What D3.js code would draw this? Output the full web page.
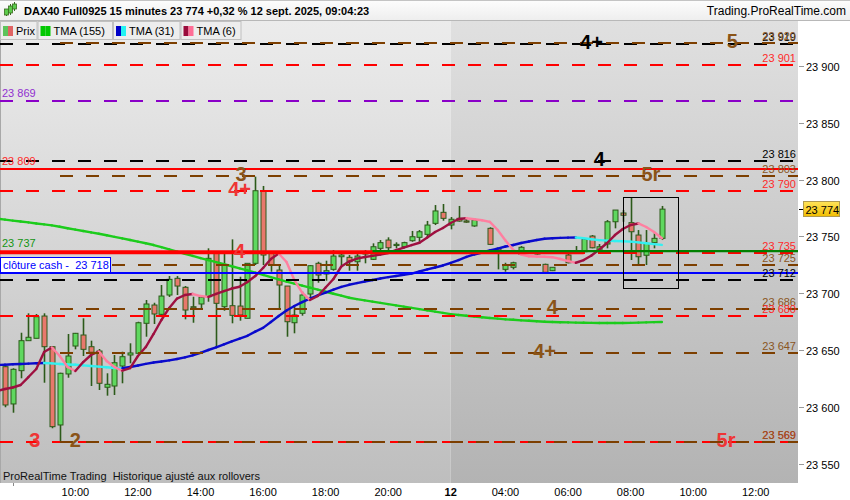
<!DOCTYPE html>
<html><head><meta charset="utf-8">
<script src="https://cdn.jsdelivr.net/npm/d3@7"></script>
<style>
html,body{margin:0;padding:0;background:#fff;}
svg{display:block;font-family:"Liberation Sans",Arial,sans-serif;}
</style></head><body>
<svg id="c" width="850" height="500"></svg>
<script>
// ---------------- DATA ----------------
// 15-minute candles, index 0 = 07:45 on 11 Sept (null = no candle)
const candleOpen  = [23635.3,23602.5,23631.8,23658.2,23660.3,23679.9,23652.9,23584.0,23628.9,23653.5,23663.2,23652.9,23649.1,23617.2,23618.3,23635.9,23645.6,23647.1,23673.5,23689.6,23681.4,23698.4,23713.1,23705.2,23688.1,23690.5,23696.9,23735.6,23688.1,23689.0,23688.7,23677.9,23726.3,23790.2,23736.5,23720.4,23706.3,23674.0,23682.3,23699.3,23726.3,23716.9,23721.0,23732.1,23731.6,23727.7,23734.5,23729.8,23739.5,23746.8,23742.2,23740.9,23746.2,23749.2,23751.8,23761.5,23771.2,23760.0,23765.9,23763.6,23759.2,null,23757.1,23739.5,23721.0,23722.8,23734.2,null,23734.5,23725.4,23719.8,null,23733.6,23737.0,23736.5,23750.3,23737.4,23743.3,23762.9,23770.6,23762.1,23751.2,23733.4,23744.5,23748.3];
const candleHigh  = [23636.8,23633.9,23665.2,23682.3,23681.7,23682.3,23653.5,23630.0,23664.1,23665.0,23677.9,23658.2,23650.9,23629.5,23645.6,23648.5,23655.9,23674.9,23694.0,23691.6,23707.2,23715.1,23715.1,23706.3,23696.9,23696.9,23739.5,23736.0,23734.5,23747.4,23714.5,23726.3,23802.6,23794.4,23737.1,23724.8,23706.3,23688.1,23701.3,23724.8,23727.7,23728.6,23738.0,23735.6,23733.6,23734.5,23738.0,23743.9,23746.8,23749.2,23744.8,23745.3,23754.8,23755.6,23763.6,23777.6,23778.5,23767.1,23776.8,23765.9,23765.9,null,23758.0,23739.5,23726.8,23727.7,23741.5,null,23737.0,23726.0,23723.0,null,23734.5,23741.5,23747.4,23751.2,23743.3,23764.4,23773.2,23773.2,23784.4,23755.6,23755.6,23752.7,23776.8];
const candleLow   = [23599.6,23594.8,23625.1,23658.2,23660.3,23621.2,23581.1,23569.3,23625.6,23650.6,23644.7,23618.3,23614.8,23609.8,23610.4,23620.7,23638.3,23646.5,23661.7,23672.9,23680.8,23696.7,23698.4,23677.0,23674.0,23685.2,23692.5,23652.4,23684.6,23673.5,23675.8,23677.9,23724.8,23724.8,23718.9,23685.2,23661.7,23664.7,23680.2,23694.0,23709.2,23711.0,23719.8,23724.8,23719.8,23719.8,23726.3,23729.2,23733.6,23738.0,23739.5,23740.9,23745.3,23745.3,23749.2,23760.0,23763.8,23756.2,23763.0,23762.0,23758.5,null,23742.4,23721.0,23718.9,23721.0,23733.6,null,23734.0,23717.8,23719.5,null,23726.3,23736.5,23736.5,23739.5,23736.5,23739.5,23757.1,23762.9,23729.2,23724.8,23724.8,23739.5,23746.8];
const candleClose = [23601.6,23633.0,23658.2,23661.2,23679.3,23652.9,23582.5,23629.5,23644.7,23664.7,23650.6,23648.0,23620.7,23619.8,23638.8,23644.1,23647.4,23674.0,23690.5,23681.7,23697.5,23712.2,23706.3,23685.2,23687.2,23696.4,23730.7,23691.1,23724.8,23680.5,23680.8,23726.3,23790.2,23733.6,23724.8,23707.2,23674.9,23680.8,23698.4,23724.2,23716.0,23719.8,23732.7,23733.6,23727.7,23732.7,23736.3,23740.9,23744.5,23740.0,23743.0,23744.5,23749.7,23754.1,23760.0,23772.4,23765.9,23765.1,23763.5,23762.7,23764.4,null,23743.0,23738.0,23724.8,23726.8,23740.4,null,23736.5,23718.4,23722.8,null,23726.8,23737.3,23747.4,23740.0,23740.9,23762.9,23773.2,23768.6,23754.1,23732.1,23743.9,23748.3,23774.0];

// moving averages, index -1 .. 84
const maStartIndex = -1;
const tma155 = [23765.6,23764.8,23763.9,23763.1,23762.3,23761.4,23760.6,23759.7,23758.5,23757.2,23756.0,23754.8,23753.5,23752.3,23751.0,23749.6,23748.2,23746.8,23745.4,23744.0,23742.4,23740.5,23738.6,23736.6,23734.7,23732.8,23730.9,23729.1,23727.3,23725.5,23723.7,23721.9,23720.1,23718.1,23716.1,23714.1,23712.2,23710.2,23708.5,23706.7,23704.9,23703.1,23701.3,23699.5,23697.8,23696.0,23694.8,23693.7,23692.6,23691.5,23690.4,23689.3,23688.2,23687.1,23686.0,23684.9,23683.8,23682.7,23681.6,23680.8,23680.1,23679.5,23678.8,23678.2,23677.6,23677.0,23676.6,23676.1,23675.7,23675.3,23674.9,23674.6,23674.4,23674.3,23674.1,23674.0,23673.9,23673.8,23673.8,23673.8,23673.8,23673.9,23674.1,23674.3,23674.5,23674.6];
const tma31 = [23636.8,23637.0,23637.4,23637.7,23638.0,23638.3,23638.6,23638.2,23637.7,23637.2,23637.0,23636.5,23635.9,23635.4,23634.8,23634.2,23634.0,23635.0,23636.4,23637.8,23639.0,23639.9,23640.9,23642.1,23643.5,23645.3,23647.5,23650.0,23652.4,23655.0,23657.6,23660.0,23662.5,23666.2,23669.5,23674.6,23679.9,23684.8,23688.7,23692.2,23695.3,23698.0,23700.6,23703.1,23705.5,23707.4,23708.9,23710.3,23711.6,23712.9,23714.1,23715.1,23716.2,23717.3,23719.1,23720.9,23722.6,23724.4,23726.6,23729.2,23731.9,23734.1,23735.8,23737.6,23739.3,23741.1,23742.4,23744.2,23745.5,23746.8,23747.9,23748.4,23748.7,23748.9,23749.0,23748.4,23747.5,23746.7,23746.3,23745.9,23745.7,23745.4,23744.7,23744.0,23743.2,23742.5];
const tma6 = [23613.9,23615.7,23617.0,23619.2,23626.2,23633.3,23648.2,23652.2,23644.7,23635.0,23631.5,23639.4,23645.6,23648.7,23640.3,23635.0,23631.9,23634.1,23644.7,23652.6,23664.1,23676.4,23687.0,23695.3,23698.4,23699.3,23697.5,23696.8,23699.3,23701.9,23704.1,23705.7,23709.9,23715.1,23722.2,23730.1,23734.9,23727.5,23711.6,23700.6,23694.0,23697.5,23705.0,23712.5,23723.5,23727.9,23730.5,23731.9,23732.9,23734.1,23735.4,23738.0,23740.2,23742.4,23744.4,23749.0,23753.9,23757.4,23761.8,23765.3,23766.0,23765.1,23764.2,23762.8,23755.6,23746.4,23738.0,23734.1,23732.5,23732.3,23732.1,23731.7,23730.1,23728.3,23726.8,23729.2,23733.2,23738.5,23744.2,23751.2,23756.5,23760.0,23761.4,23758.3,23753.9,23748.4];

// horizontal levels
const levelValue = [23919, 23920, 23901, 23869, 23816, 23809, 23803, 23790, 23735, 23725, 23718, 23712, 23686, 23680, 23647, 23569, 23569];
const levelKind  = ['black','brown','red','purple','black','redSolid','brown','red','red','brown','blue','black','brown','red','brown','red','brown'];
const level737 = 23737;        // green level
const redBand = 23736;         // thick red segment
const redBandEndIndex = 74;
const greenStartIndex = 47;

// level tags
const tagText  = ['4+','5','4','5r','3','4+','4','4','4+','5r','3','2'];
const tagLevel = [23919,23920,23816,23803,23803,23790,23735,23686,23647,23569,23569,23569];
const tagKind  = ['black','brown','black','brown','brown','red','red','brown','brown','red','red','brown'];
const tagIndex = [75,93,76,82.6,30.2,30,30,70,69,92.2,3.8,9];

// axes
const yTicks = [23550,23600,23650,23700,23750,23800,23850,23900];
const xTickIndex = [9,17,25,33,41,49,57,64,72,80,88,96];
const xTickLabel = ['10:00','12:00','14:00','16:00','18:00','20:00','12','04:00','06:00','08:00','10:00','12:00'];
const sessionStartIndex = 57;
const lastPrice = 23774;
const closeCash = 23718;
const boxIndex = [79, 86.07];
const boxRange = [23704.3, 23784.4];

// ---------------- DRAW ----------------
const svg = d3.select('#c');
const PL=0, PR=798, PT=21, PB=483;
const FS = 11;
const x = d3.scaleLinear().domain([0,100]).range([5,787]);
const y = d3.scaleLinear().domain([23550,23900]).range([463.6,66]);

const defs = svg.append('defs');
function vgrad(id, c1, c2){
  const g = defs.append('linearGradient').attr('id',id).attr('x1',0).attr('y1',0).attr('x2',0).attr('y2',1);
  g.append('stop').attr('offset','0%').attr('stop-color',c1);
  g.append('stop').attr('offset','100%').attr('stop-color',c2);
}
vgrad('bgL','#ececec','#bebebe');
vgrad('bgR','#e0e0e0','#b3b3b3');
vgrad('hdr','#fdfdfd','#eeeeee');
vgrad('yel','#ffe45a','#f2bd00');
defs.append('clipPath').attr('id','plotClip').append('rect').attr('x',PL).attr('y',PT).attr('width',PR-PL).attr('height',PB-PT);

// background
svg.append('rect').attr('x',0).attr('y',0).attr('width',850).attr('height',500).attr('fill','#fff');
const sx = x(sessionStartIndex);
svg.append('rect').attr('x',PL).attr('y',PT).attr('width',sx-PL).attr('height',PB-PT).attr('fill','url(#bgL)');
svg.append('rect').attr('x',sx).attr('y',PT).attr('width',PR-sx).attr('height',PB-PT).attr('fill','url(#bgR)');
svg.append('line').attr('x1',0.5).attr('x2',0.5).attr('y1',PT).attr('y2',PB).attr('stroke','#a8a8a8');

const plot = svg.append('g').attr('clip-path','url(#plotClip)');

// candles
const candles = candleOpen.map((o,i)=>({i,o,h:candleHigh[i],l:candleLow[i],c:candleClose[i]})).filter(d=>d.o!=null);
const cg = plot.append('g');
const wickCol = '#2c5a1a';
cg.selectAll('line.w').data(candles).join('line')
  .attr('x1',d=>Math.round(x(d.i))+0.5).attr('x2',d=>Math.round(x(d.i))+0.5)
  .attr('y1',d=>y(d.h)).attr('y2',d=>y(d.l)).attr('stroke',wickCol).attr('stroke-width',1.6);
cg.selectAll('rect.b').data(candles).join('rect')
  .attr('x',d=>Math.round(x(d.i))-2)
  .attr('y',d=>y(Math.max(d.o,d.c)))
  .attr('width',5)
  .attr('height',d=>Math.max(1.2,Math.abs(y(d.o)-y(d.c))))
  .attr('fill',d=>d.c>=d.o?'#5fd85f':'#e8786c')
  .attr('stroke',wickCol).attr('stroke-width',1);

// moving averages with direction colours
function maLine(vals, upCol, downCol, w, single){
  const g = plot.append('g');
  for(let k=0;k<vals.length-1;k++){
    const i0 = k+maStartIndex, i1 = i0+1;
    const col = single ? upCol : (vals[k+1] >= vals[k] ? upCol : downCol);
    g.append('line').attr('x1',x(i0)).attr('y1',y(vals[k])).attr('x2',x(i1)).attr('y2',y(vals[k+1]))
      .attr('stroke',col).attr('stroke-width',w).attr('stroke-linecap','round');
  }
}
maLine(tma155,'#1ccc1c','#1ccc1c',2.4,true);
maLine(tma31,'#0a0acc','#33f0f0',2.4,false);
maLine(tma6,'#9e1040','#ff7fa0',2.4,false);

// levels
const kindColor = {black:'#000000',brown:'#7d3f00',red:'#ff0000',purple:'#8a00c8',redSolid:'#ff0000',blue:'#0000ff'};
const lg = plot.append('g');
levelValue.forEach((v,k)=>{
  const kind = levelKind[k];
  const yy = Math.round(y(v));
  const ln = lg.append('line').attr('y1',yy).attr('y2',yy).attr('stroke',kindColor[kind]).attr('stroke-width',2);
  if(kind==='brown'){ ln.attr('x1',60).attr('x2',PR).attr('stroke-dasharray','13,13'); }
  else if(kind==='redSolid' || kind==='blue'){ ln.attr('x1',PL).attr('x2',PR).attr('stroke-width',kind==='blue'?2:2.2); }
  else { ln.attr('x1',PL).attr('x2',PR).attr('stroke-dasharray','13,13'); }
});
lg.append('line').attr('x1',PL).attr('x2',x(redBandEndIndex)).attr('y1',y(redBand)).attr('y2',y(redBand))
  .attr('stroke','#ff0000').attr('stroke-width',4);
lg.append('line').attr('x1',x(greenStartIndex)).attr('x2',PR).attr('y1',y(level737)).attr('y2',y(level737))
  .attr('stroke','#008000').attr('stroke-width',2.4);

// current candle box
plot.append('rect').attr('x',Math.round(x(boxIndex[0]))+0.5).attr('y',Math.round(y(boxRange[1]))+0.5)
  .attr('width',Math.round(x(boxIndex[1])-x(boxIndex[0]))).attr('height',Math.round(y(boxRange[0])-y(boxRange[1])))
  .attr('fill','none').attr('stroke','#000').attr('stroke-width',1);

// right-side level values
const fmt = v=>d3.format(',')(Math.round(v)).replace(',',' ');
const txtColor = {black:'#000000',brown:'#8a5522',red:'#ff2a2a'};
levelValue.forEach((v,k)=>{
  const kind = levelKind[k];
  if(!txtColor[kind]) return;
  plot.append('text').attr('x',796).attr('y',y(v)-3).attr('text-anchor','end')
    .attr('font-size',FS).attr('fill',txtColor[kind]).text(fmt(v));
});
// left labels
plot.append('text').attr('x',2).attr('y',y(23869)-4).attr('font-size',FS).attr('fill','#9030d0').text(fmt(23869));
plot.append('text').attr('x',2).attr('y',y(23809)-4).attr('font-size',FS).attr('fill','#ff2a2a').text(fmt(23809));
plot.append('text').attr('x',2).attr('y',y(level737)-4).attr('font-size',FS).attr('fill','#129412').text(fmt(level737));
// cloture cash box
const cy = Math.round(y(closeCash));
plot.append('rect').attr('x',0.5).attr('y',cy-15.5).attr('width',110).attr('height',15).attr('fill','#fff').attr('stroke','#0000ff');
plot.append('text').attr('x',3).attr('y',cy-4).attr('font-size',FS).attr('fill','#0000ff').style('white-space','pre')
  .text('clôture cash -  ' + fmt(closeCash));

// tags
const tagColor = {black:'#000000',brown:'#8a5418',red:'#ee3535'};
tagText.forEach((t,k)=>{
  plot.append('text').attr('x',x(tagIndex[k])).attr('y',y(tagLevel[k])-2)
    .attr('text-anchor','middle').attr('dominant-baseline','central')
    .attr('font-size',20).attr('font-weight','bold').attr('fill',tagColor[tagKind[k]]).text(t);
});

// watermark text
svg.append('text').attr('x',3).attr('y',480).attr('font-size',FS).attr('fill','#111').style('white-space','pre')
  .text('ProRealTime Trading  Historique ajusté aux rollovers');

// y axis
const ya = svg.append('g');
yTicks.forEach(v=>{
  const yy = Math.round(y(v))+0.5;
  ya.append('line').attr('x1',799).attr('x2',804).attr('y1',yy).attr('y2',yy).attr('stroke','#999');
  ya.append('text').attr('x',806).attr('y',yy+4).attr('font-size',FS).attr('fill','#000').text(fmt(v));
});
// last price
const ly = Math.round(y(lastPrice))+0.5;
ya.append('line').attr('x1',799).attr('x2',804).attr('y1',ly).attr('y2',ly).attr('stroke','#000');
ya.append('rect').attr('x',803.5).attr('y',ly-8).attr('width',36).attr('height',15).attr('fill','url(#yel)').attr('stroke','#b09a50');
ya.append('text').attr('x',805.5).attr('y',ly+4).attr('font-size',FS).attr('fill','#000').text(fmt(lastPrice));

// x axis
const xa = svg.append('g');
xa.append('line').attr('x1',Math.round(x(1))+0.5).attr('x2',Math.round(x(1))+0.5).attr('y1',PB).attr('y2',PB+3).attr('stroke','#888');
xTickIndex.forEach((i,k)=>{
  xa.append('text').attr('x',x(i)).attr('y',496).attr('text-anchor','middle').attr('font-size',FS)
    .attr('font-weight',xTickLabel[k]==='12'?'bold':'normal').attr('fill','#000').text(xTickLabel[k]);
});

// header
svg.append('rect').attr('x',0).attr('y',0).attr('width',850).attr('height',20).attr('fill','url(#hdr)');
svg.append('line').attr('x1',0).attr('x2',850).attr('y1',0.5).attr('y2',0.5).attr('stroke','#c4c4c4');
svg.append('line').attr('x1',0).attr('x2',850).attr('y1',20.5).attr('y2',20.5).attr('stroke','#b8b8b8');
// icon: little candles
const icon = svg.append('g');
[[6,9,15,11,16],[10,6,13,4,15],[14,4,9,2,11]].forEach(c=>{
  icon.append('line').attr('x1',c[0]+0.5).attr('x2',c[0]+0.5).attr('y1',c[3]).attr('y2',c[4]).attr('stroke','#3a6a20');
  icon.append('rect').attr('x',c[0]-1.5).attr('y',c[1]).attr('width',4).attr('height',c[2]-c[1]).attr('fill','#5ccc4c').attr('stroke','#3a6a20').attr('stroke-width',0.8);
});
svg.append('text').attr('x',24).attr('y',15).attr('font-size',FS).attr('font-weight','bold').attr('fill','#000')
  .text('DAX40 Full0925 15 minutes 23 774 +0,32 % 12 sept. 2025, 09:04:23');
svg.append('text').attr('x',846).attr('y',15).attr('text-anchor','end').attr('font-size',12).attr('fill','#000')
  .text('Trading.ProRealTime.com');

// legend buttons
const legendNames = ['Prix','TMA (155)','TMA (31)','TMA (6)'];
const legendColors = [['#5cc45c','#e06464'],['#00c800','#00c800'],['#0000c8','#22f2f2'],['#9a0c3c','#ff6e96']];
const legendX = [0,37.5,113,180.5,241.5];
const leg = svg.append('g');
legendNames.forEach((n,k)=>{
  const x0 = legendX[k], x1 = legendX[k+1];
  leg.append('rect').attr('x',x0+0.5).attr('y',21.5).attr('width',x1-x0-1).attr('height',18).attr('fill','#ededed').attr('stroke','#c0c0c0');
  leg.append('rect').attr('x',x0+3).attr('y',26).attr('width',5).attr('height',10).attr('fill',legendColors[k][0]);
  leg.append('rect').attr('x',x0+8).attr('y',26).attr('width',5).attr('height',10).attr('fill',legendColors[k][1]);
  leg.append('text').attr('x',x0+16).attr('y',35).attr('font-size',FS).attr('fill','#000').text(n);
});
</script>
</body></html>
